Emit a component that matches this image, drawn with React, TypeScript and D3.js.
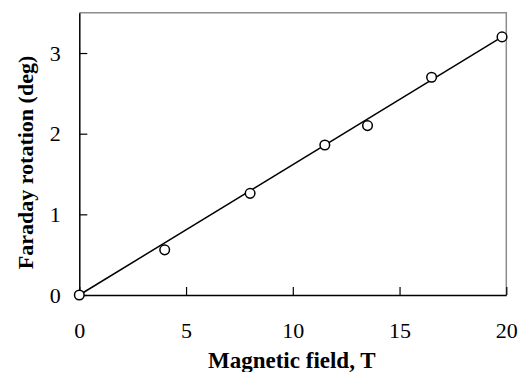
import { useEffect, useRef } from 'react'
import * as d3 from 'd3'

// measured points
const fieldT = [0, 4, 8, 11.5, 13.5, 16.5, 19.8]
const rotationDeg = [0, 0.56, 1.26, 1.86, 2.1, 2.7, 3.2]

// straight fit line, end points
const fitField = [0, 19.8]
const fitRotation = [0, 3.2]

const xTicks = [0, 5, 10, 15, 20]
const yTicks = [0, 1, 2, 3]

const FONT = "'Liberation Serif', 'Times New Roman', serif"

const App = () => {
  const ref = useRef<SVGSVGElement>(null)

  useEffect(() => {
    const w = 518
    const h = 372
    const left = 79.3
    const right = 506.3
    const top = 12.7
    const bottom = 295

    const svg = d3.select(ref.current)
    svg.selectAll('*').remove()
    svg.attr('width', w).attr('height', h)

    const x = d3.scaleLinear().domain([0, 20]).range([left, right])
    const y = d3.scaleLinear().domain([0, 3.5]).range([bottom, top])

    // grey top / right frame
    svg.append('path')
      .attr('d', `M${left},${top}H${right}V${bottom}`)
      .attr('fill', 'none')
      .attr('stroke', '#8c8c8c')
      .attr('stroke-width', 1.5)

    const xAxis = d3.axisBottom(x).tickValues(xTicks).tickFormat(d3.format('d'))
      .tickSizeInner(-8).tickSizeOuter(0).tickPadding(27.5)
    const gx = svg.append('g').attr('transform', `translate(0,${bottom})`).call(xAxis)

    const yAxis = d3.axisLeft(y).tickValues(yTicks).tickFormat(d3.format('d'))
      .tickSizeInner(-8).tickSizeOuter(0).tickPadding(18.5)
    const gy = svg.append('g').attr('transform', `translate(${left},0)`).call(yAxis)

    for (const g of [gx, gy]) {
      g.attr('font-family', null).attr('font-size', null)
      g.select('.domain').attr('stroke', '#000').attr('stroke-width', 1.5)
      g.selectAll('.tick line').attr('stroke', '#000').attr('stroke-width', 1.2)
      g.selectAll('.tick text')
        .attr('fill', '#000')
        .style('font-family', FONT)
        .style('font-size', '22px')
    }

    // fit line
    const line = d3.line<number>().x(d => x(fitField[d])).y(d => y(fitRotation[d]))
    svg.append('path')
      .datum(d3.range(fitField.length))
      .attr('d', line)
      .attr('fill', 'none')
      .attr('stroke', '#000')
      .attr('stroke-width', 1.5)

    svg.selectAll('circle.pt')
      .data(fieldT)
      .enter()
      .append('circle')
      .attr('class', 'pt')
      .attr('cx', d => x(d))
      .attr('cy', (_, i) => y(rotationDeg[i]))
      .attr('r', 4.8)
      .attr('fill', '#fff')
      .attr('stroke', '#000')
      .attr('stroke-width', 1.5)

    // axis titles
    svg.append('text')
      .attr('x', (left + right) / 2 - 1)
      .attr('y', 368)
      .attr('text-anchor', 'middle')
      .style('font-family', FONT)
      .style('font-size', '23px')
      .style('font-weight', 'bold')
      .text('Magnetic field, T')

    svg.append('text')
      .attr('transform', `translate(33,162.5) rotate(-90)`)
      .attr('text-anchor', 'middle')
      .style('font-family', FONT)
      .style('font-size', '22px')
      .style('font-weight', 'bold')
      .text('Faraday rotation (deg)')
  }, [])

  return (
    <div style={{ position: 'absolute', left: 0, top: 0, background: '#fff' }}>
      <svg ref={ref} style={{ display: 'block' }}></svg>
    </div>
  )
}

export default App
